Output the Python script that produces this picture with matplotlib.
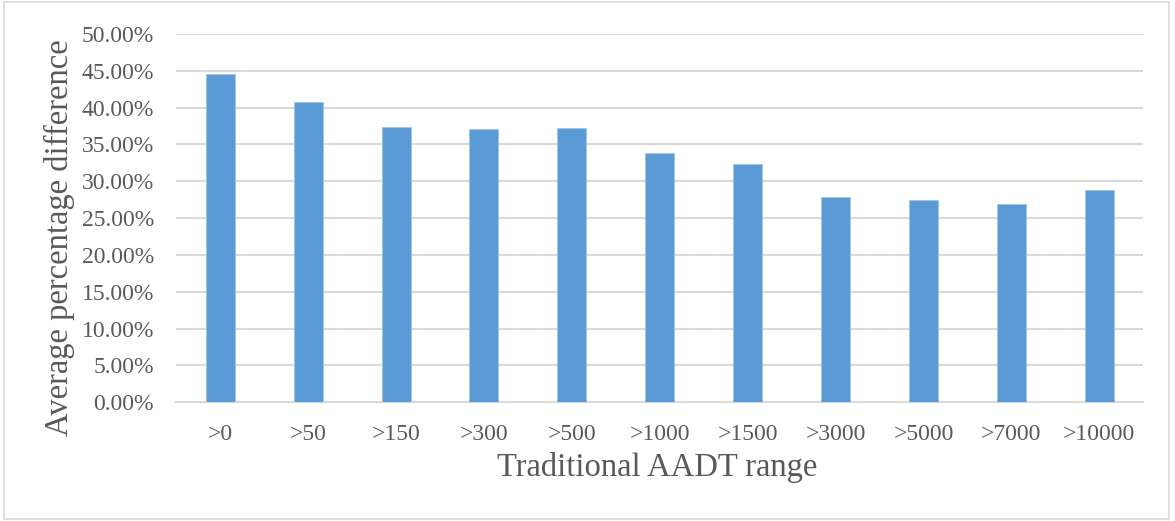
import numpy as np
import matplotlib
matplotlib.use("Agg")
from matplotlib import pyplot as plt
from matplotlib.patches import Rectangle
from matplotlib.ticker import FuncFormatter, MultipleLocator

plt.rcParams['font.family'] = ['Liberation Serif', 'DejaVu Serif']

## data
ranges = ['>0', '>50', '>150', '>300', '>500', '>1000',
          '>1500', '>3000', '>5000', '>7000', '>10000']
avg_diff = [44.5, 40.75, 37.35, 37.1, 37.2, 33.85,
            32.35, 27.85, 27.45, 26.95, 28.8]

text_col = '#595959'
grid_col = '#D9D9D9'
bar_col = '#5B9BD5'

fig = plt.figure(figsize=(11.75, 5.21), dpi=100)
ax = fig.add_axes([0.150, 0.228, 0.823, 0.707])

x = np.arange(len(ranges))
ax.bar(x, np.array(avg_diff) / 100., width=0.33, color=bar_col,
       edgecolor='#9DC3E6', linewidth=0.6, zorder=3)

ax.set_xlim(-0.5, len(ranges) - 0.5)
ax.set_ylim(0, 0.5)
ax.yaxis.set_major_locator(MultipleLocator(0.05))
ax.yaxis.set_major_formatter(FuncFormatter(lambda v, p: '{:.2f}%'.format(v * 100)))
ax.grid(axis='y', color=grid_col, linewidth=1.5, zorder=0)
ax.set_xticks(x)
ax.set_xticklabels(ranges)

for s in ['top', 'right', 'left']:
    ax.spines[s].set_visible(False)
ax.spines['bottom'].set_color(grid_col)
ax.spines['bottom'].set_linewidth(1.5)
ax.tick_params(axis='both', length=0, labelsize=17, labelcolor=text_col)
ax.tick_params(axis='x', pad=16)
ax.tick_params(axis='y', pad=16)

ax.set_xlabel('Traditional AADT range', fontsize=23.5, color=text_col)
ax.set_ylabel('Average percentage difference', fontsize=23.5, color=text_col)
ax.xaxis.set_label_coords(0.497, -0.134)
ax.yaxis.set_label_coords(-0.105, 0.448)

# light frame round the whole chart
fig.patches.append(Rectangle((0.003, 0.003), 0.992, 0.994, transform=fig.transFigure,
                             fill=False, edgecolor=grid_col, linewidth=1.2))

fig.savefig('out.png', dpi=100)
